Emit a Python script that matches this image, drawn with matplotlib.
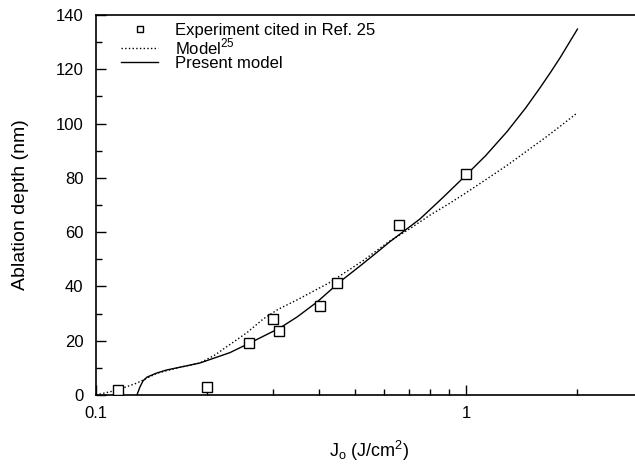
import numpy as np
import matplotlib
matplotlib.use("Agg")
import matplotlib.pyplot as plt
from matplotlib.ticker import FixedLocator, NullFormatter

plt.rcParams['font.family'] = ['Liberation Sans', 'DejaVu Sans']
plt.rcParams['mathtext.fontset'] = 'custom'
plt.rcParams['mathtext.rm'] = 'Liberation Sans'

# experiment points
exp_x = [0.115, 0.20, 0.259, 0.301, 0.312, 0.403, 0.448, 0.659, 1.0]
exp_y = [1.8, 3.0, 19.2, 28.0, 23.6, 32.8, 41.4, 62.8, 81.6]

# Model (ref 25), dotted
mod_x = [0.10, 0.114, 0.129, 0.146, 0.166, 0.191, 0.21, 0.230, 0.256, 0.283,
         0.31, 0.349, 0.429, 0.527, 0.62, 0.70, 0.80, 0.90, 1.0, 1.15,
         1.30, 1.64, 1.80, 2.0]
mod_y = [0.0, 1.8, 4.4, 8.0, 10.0, 11.8, 14.8, 18.6, 23.0, 28.0,
         31.5, 35.0, 41.5, 49.5, 56.6, 61.0, 66.3, 70.5, 74.5, 80.0,
         84.9, 94.9, 99.1, 104.0]

# present model, solid
pm_x = [0.129, 0.1315, 0.134, 0.1374, 0.146, 0.155, 0.1655, 0.191, 0.230, 0.259,
        0.314, 0.35, 0.396, 0.457, 0.52, 0.575, 0.623, 0.75, 0.862, 1.0,
        1.13, 1.29, 1.45, 1.585, 1.7, 1.8, 2.0]
pm_y = [0.0, 3.0, 5.2, 6.6, 8.1, 9.2, 10.0, 11.8, 15.6, 19.0,
        24.7, 28.8, 34.3, 41.8, 47.8, 52.6, 56.5, 64.8, 72.5, 81.0,
        88.2, 97.0, 105.8, 113.2, 119.3, 124.5, 134.8]

fig = plt.figure(figsize=(6.35, 4.70), dpi=100)
ax = fig.add_axes([96/635, 75/470, 546.6/635, 380/470])

ax.plot(exp_x, exp_y, linestyle='none', marker='s', markersize=7,
        markerfacecolor='white', markeredgecolor='black', markeredgewidth=1.0,
        label='Experiment cited in Ref. 25', zorder=3)
ax.plot(mod_x, mod_y, linestyle=':', color='black', linewidth=1.0,
        label='Model$^{25}$')
ax.plot(pm_x, pm_y, linestyle='-', color='black', linewidth=1.0,
        label='Present model')

ax.set_xscale('log')
ax.set_xlim(0.1, 3)
ax.set_ylim(0, 140)

ax.xaxis.set_major_locator(FixedLocator([0.1, 1]))
ax.set_xticklabels(['0.1', '1'])
ax.xaxis.set_minor_locator(FixedLocator([0.2, 0.3, 0.4, 0.5, 0.6, 0.7, 0.8, 0.9, 2, 3]))
ax.xaxis.set_minor_formatter(NullFormatter())
ax.set_yticks(np.arange(0, 141, 20))
ax.yaxis.set_minor_locator(FixedLocator(np.arange(10, 140, 20)))

ax.tick_params(which='both', direction='in', top=False, right=False,
               labelsize=12, colors='black')
ax.tick_params(which='major', length=7, width=1)
ax.tick_params(which='minor', length=4, width=1)
ax.tick_params(axis='x', pad=8)
ax.tick_params(axis='y', pad=9)

ax.spines['right'].set_visible(False)
for s in ['left', 'bottom', 'top']:
    ax.spines[s].set_linewidth(1.2)

ax.set_xlabel('J$_\\mathregular{o}$ (J/cm$^\\mathregular{2}$)', fontsize=13, labelpad=13)
ax.set_ylabel('Ablation depth (nm)', fontsize=14, labelpad=19)

leg = ax.legend(loc='upper left', bbox_to_anchor=(0.031, 1.0), frameon=False,
                fontsize=12, handlelength=2.2, handletextpad=1.0,
                labelspacing=-0.1, markerscale=0.7, borderaxespad=0.1)

fig.savefig('out.png', dpi=100)
